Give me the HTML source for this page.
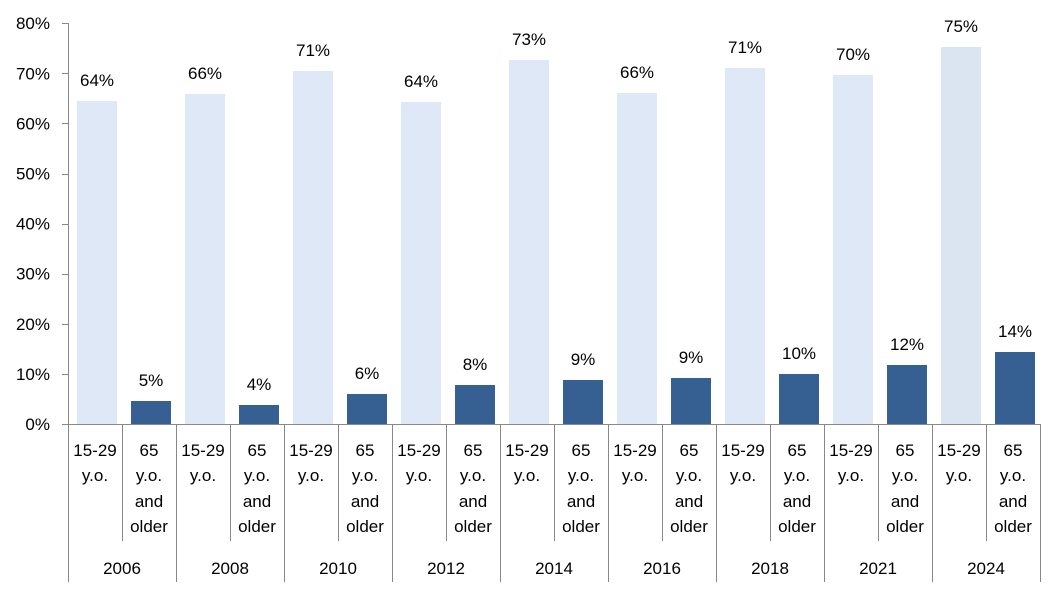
<!DOCTYPE html>
<html><head><meta charset="utf-8"><style>
html,body{margin:0;padding:0;background:#fff;}
text{font-family:"Liberation Sans",sans-serif;font-size:17px;fill:#000;}
</style></head><body>
<svg width="1064" height="591" xmlns="http://www.w3.org/2000/svg">
<g id="c"></g>
</svg>
<script>
const L=[101,94,71,102,60,93,68,75,47],D=[401,405,394,385,380,378,374,365,352];
const LL=["64%","66%","71%","64%","73%","66%","71%","70%","75%"],DL=["5%","4%","6%","8%","9%","9%","10%","12%","14%"];
const Y=["2006","2008","2010","2012","2014","2016","2018","2021","2024"];
let s='';
for(let i=0;i<=8;i++){const y=424-i*50.1;s+=`<text x="50" y="${y+6}" text-anchor="end">${i*10}%</text>`;}
for(let i=0;i<9;i++){const g=68+108*i;
s+=`<rect x="${g+9}" y="${L[i]}" width="40" height="${424-L[i]}" fill="${i==8?'#dbe5f1':'#dfe8f7'}"/>`;
s+=`<rect x="${g+63}" y="${D[i]}" width="40" height="${424-D[i]}" fill="#376092"/>`;
s+=`<text x="${g+29}" y="${L[i]-15}" text-anchor="middle">${LL[i]}</text>`;
s+=`<text x="${g+83}" y="${D[i]-15}" text-anchor="middle">${DL[i]}</text>`;
s+=`<text x="${g+27}" y="456" text-anchor="middle">15-29</text><text x="${g+27}" y="481" text-anchor="middle">y.o.</text>`;
s+=`<text x="${g+81}" y="456" text-anchor="middle">65</text><text x="${g+81}" y="481" text-anchor="middle">y.o.</text><text x="${g+81}" y="507" text-anchor="middle">and</text><text x="${g+81}" y="532" text-anchor="middle">older</text>`;
s+=`<text x="${g+54}" y="574" text-anchor="middle">${Y[i]}</text>`;
s+=`<line x1="${g+54.5}" y1="424" x2="${g+54.5}" y2="541" stroke="#888" stroke-width="1"/>`;
s+=`<line x1="${g+108.5}" y1="424" x2="${g+108.5}" y2="582" stroke="#888" stroke-width="1"/>`;
}
s+=`<line x1="68.5" y1="23" x2="68.5" y2="582" stroke="#888"/>`;
s+=`<line x1="62" y1="424.5" x2="1041" y2="424.5" stroke="#888"/>`;
for(let i=1;i<=8;i++){const y=Math.round(424-i*50.1)+.5;s+=`<line x1="62" y1="${y}" x2="68.5" y2="${y}" stroke="#888"/>`;}
document.getElementById('c').innerHTML=s;
</script>
</body></html>
